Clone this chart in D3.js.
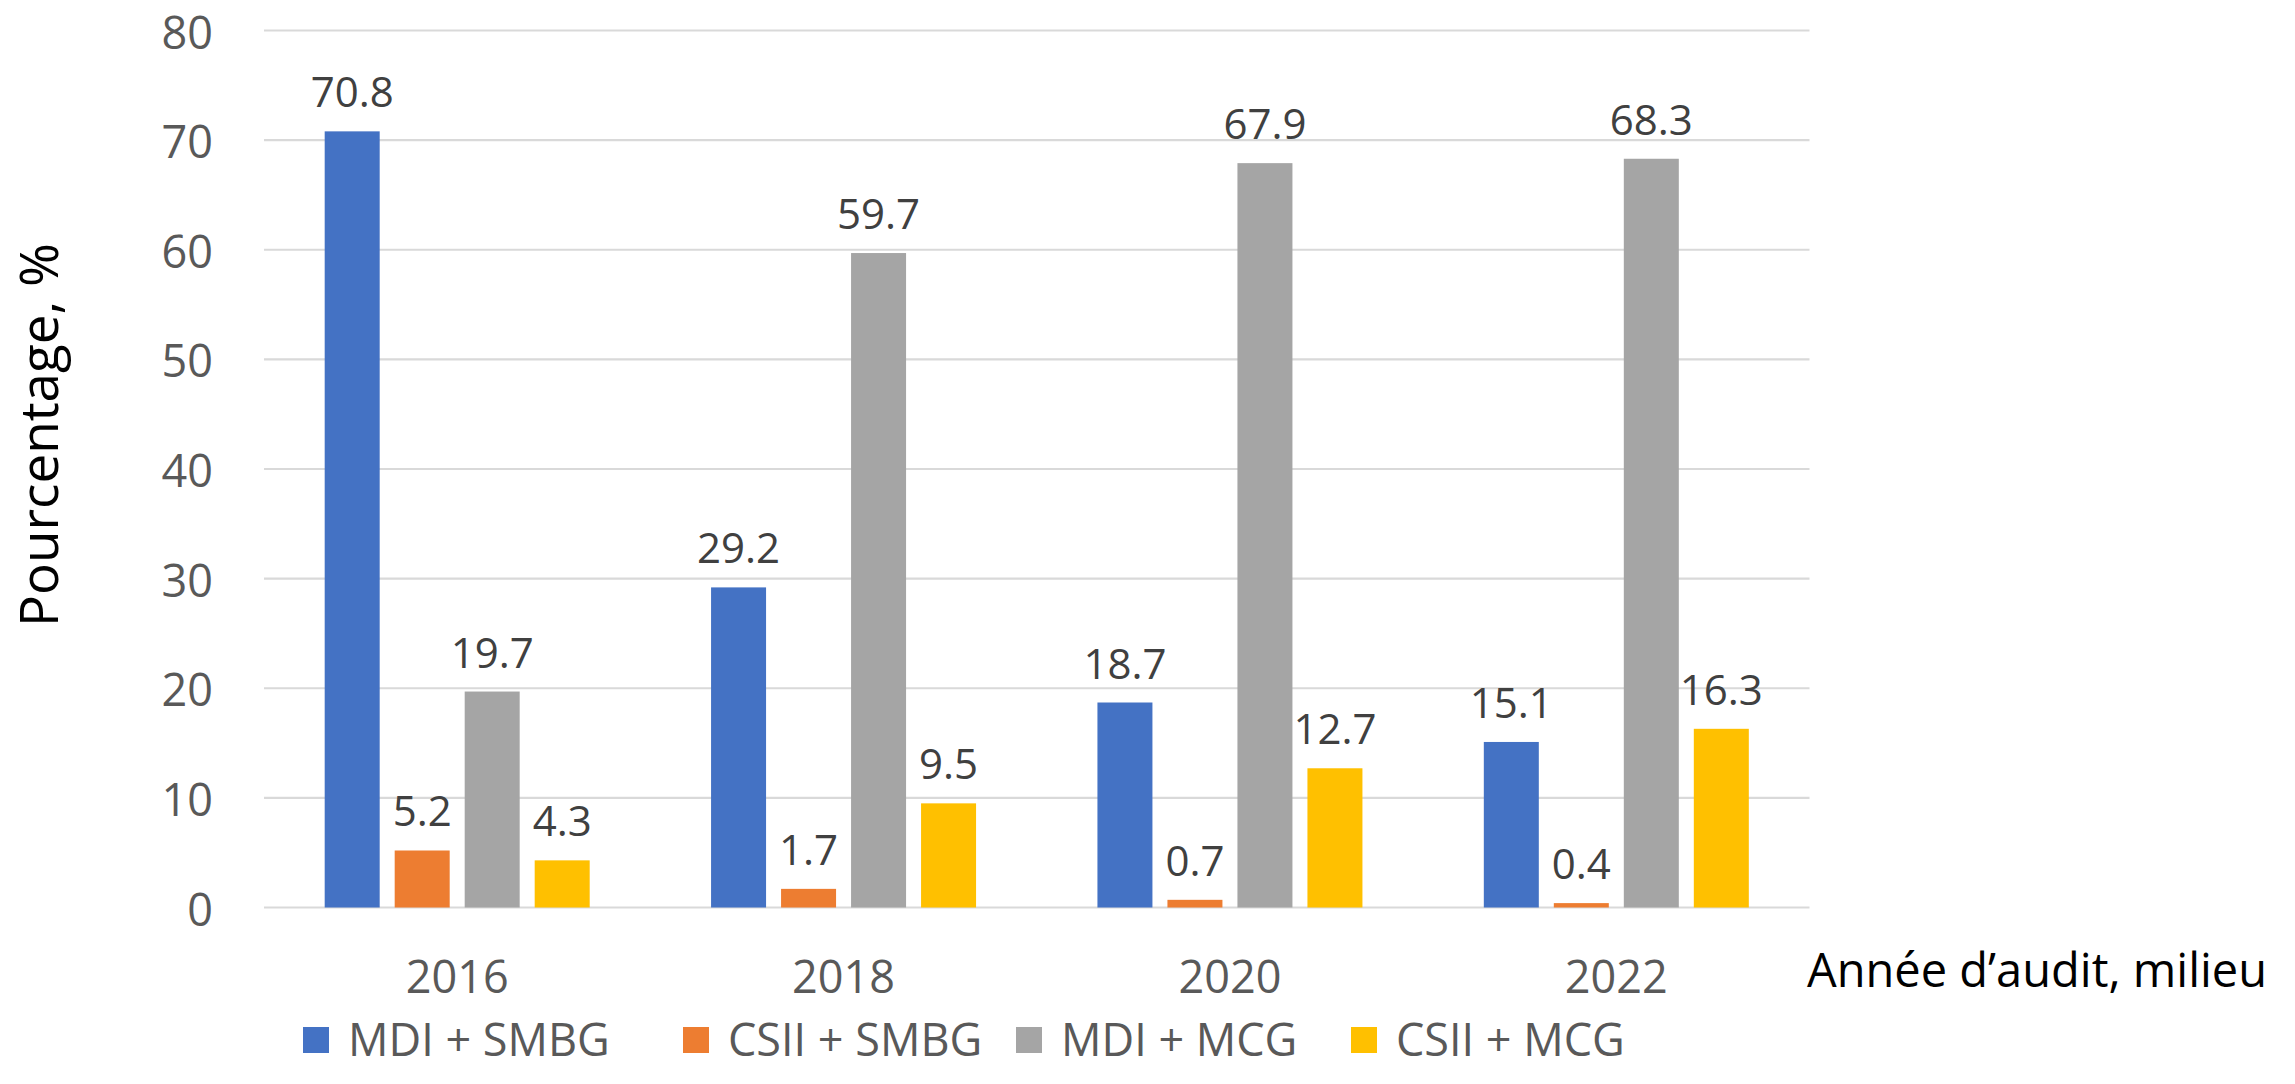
<!DOCTYPE html>
<html>
<head>
<meta charset="utf-8">
<script src="https://cdn.jsdelivr.net/npm/d3@7"></script>
<style>
  html, body { margin: 0; padding: 0; background: #fff; }
  svg { display: block; }
  text { font-family: "Open Sans", "Noto Sans", sans-serif; }
</style>
</head>
<body>
<svg id="chart" width="2295" height="1084"></svg>
<script>
const categories = ["2016", "2018", "2020", "2022"];
const seriesNames = ["MDI + SMBG", "CSII + SMBG", "MDI + MCG", "CSII + MCG"];
const mdiSmbg  = [70.8, 29.2, 18.7, 15.1];
const csiiSmbg = [5.2, 1.7, 0.7, 0.4];
const mdiMcg   = [19.7, 59.7, 67.9, 68.3];
const csiiMcg  = [4.3, 9.5, 12.7, 16.3];
const yTicks = [0, 10, 20, 30, 40, 50, 60, 70, 80];
const colors = ["#4472C4", "#ED7D31", "#A5A5A5", "#FFC000"];
const yTitle = "Pourcentage, %";
const xTitle = "Année d’audit, milieu";

const seriesValues = [mdiSmbg, csiiSmbg, mdiMcg, csiiMcg];

const svg = d3.select("#chart");
const plotLeft = 264, plotRight = 1809.5, plotTop = 30.5, plotBottom = 907.5;

const x = d3.scaleBand().domain(categories).range([plotLeft, plotRight]).padding(0);
const groupWidth = 265;
const xs = d3.scaleBand().domain(seriesNames).range([-groupWidth / 2, groupWidth / 2])
  .paddingInner(15 / 70).paddingOuter(0);
const y = d3.scaleLinear().domain([0, 80]).range([plotBottom, plotTop]);

// gridlines
const grid = svg.append("g");
grid.selectAll("line").data(yTicks).join("line")
  .attr("x1", plotLeft).attr("x2", plotRight)
  .attr("y1", d => y(d)).attr("y2", d => y(d))
  .attr("stroke", "#D9D9D9").attr("stroke-width", 2.2);

// y-axis tick labels
const yAxis = d3.axisLeft(y).tickValues(yTicks).tickSize(0).tickPadding(0).tickFormat(d3.format("d"));
const yg = svg.append("g").attr("transform", "translate(213,0)").call(yAxis);
yg.select(".domain").remove();
yg.selectAll("text")
  .attr("font-size", 45).attr("fill", "#595959")
  .attr("font-family", "'Open Sans', sans-serif")
  .attr("dy", "0.39em");

// x-axis category labels
const xAxis = d3.axisBottom(x).tickSize(0).tickPadding(0);
const xg = svg.append("g").attr("transform", "translate(0,993)").call(xAxis);
xg.select(".domain").remove();
xg.selectAll("text")
  .attr("font-size", 45).attr("fill", "#595959")
  .attr("font-family", "'Open Sans', sans-serif")
  .attr("y", 0).attr("dy", 0);

// bars
const rows = [];
categories.forEach((c, i) => {
  seriesNames.forEach((s, j) => rows.push({ cat: c, series: s, j, v: seriesValues[j][i] }));
});

const bars = svg.append("g");
bars.selectAll("rect").data(rows).join("rect")
  .attr("x", d => x(d.cat) + x.bandwidth() / 2 + xs(d.series))
  .attr("y", d => y(d.v))
  .attr("width", xs.bandwidth())
  .attr("height", d => y(0) - y(d.v))
  .attr("fill", d => colors[d.j]);

// value labels
svg.append("g").selectAll("text").data(rows).join("text")
  .attr("x", d => x(d.cat) + x.bandwidth() / 2 + xs(d.series) + xs.bandwidth() / 2)
  .attr("y", d => y(d.v) - 24)
  .attr("text-anchor", "middle")
  .attr("font-size", 42)
  .attr("fill", "#404040")
  .text(d => d3.format(".1f")(d.v));

// y title
svg.append("text")
  .attr("transform", "translate(58,435) rotate(-90)")
  .attr("text-anchor", "middle")
  .attr("font-size", 53)
  .attr("fill", "#000")
  .text(yTitle);

// x title
svg.append("text")
  .attr("x", 1807).attr("y", 987)
  .attr("font-size", 47)
  .attr("fill", "#000")
  .text(xTitle);

// legend
const legendX = [303, 683, 1016, 1351];
const lg = svg.append("g").selectAll("g").data(seriesNames).join("g")
  .attr("transform", (d, i) => `translate(${legendX[i]},1040)`);
lg.append("rect").attr("x", 0).attr("y", -13).attr("width", 26).attr("height", 26)
  .attr("fill", (d, i) => colors[i]);
lg.append("text").attr("x", 45).attr("y", 0).attr("dy", "0.35em")
  .attr("font-size", 45).attr("fill", "#595959").text(d => d);
</script>
</body>
</html>
